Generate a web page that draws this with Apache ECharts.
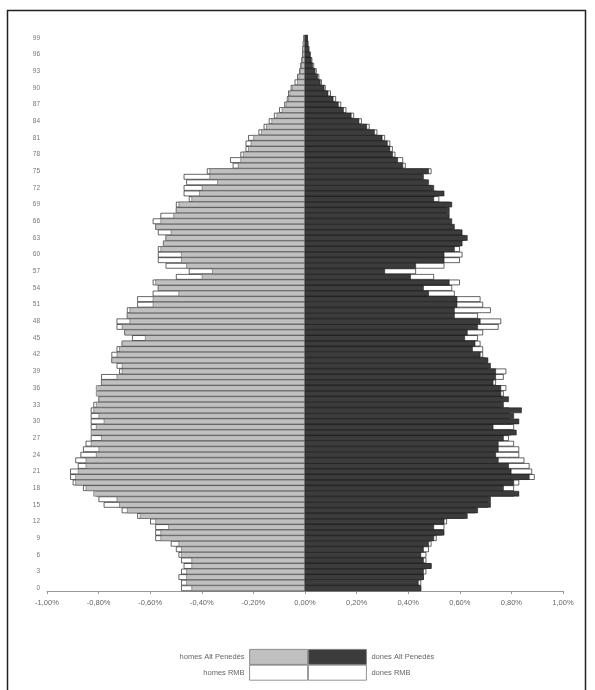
<!DOCTYPE html>
<html>
<head>
<meta charset="utf-8">
<script src="https://cdn.jsdelivr.net/npm/echarts@6/dist/echarts.min.js"></script>
<style>html,body{margin:0;padding:0;background:#fff;}#c{width:595px;height:690px;}</style>
</head>
<body>
<div id="c"></div>
<script>
// Ages 0..99
const ages = Array.from({length: 100}, (_, i) => String(i));
// Percent of total population (positive values), index = age
const homesAltPenedes = [0.44,0.46,0.46,0.46,0.44,0.44,0.48,0.48,0.49,0.56,
  0.56,0.53,0.58,0.64,0.69,0.72,0.73,0.82,0.85,0.89,
  0.89,0.88,0.85,0.85,0.81,0.80,0.83,0.79,0.83,0.81,
  0.78,0.80,0.82,0.81,0.80,0.81,0.81,0.79,0.73,0.71,
  0.71,0.75,0.73,0.72,0.71,0.62,0.70,0.71,0.68,0.69,
  0.68,0.59,0.59,0.49,0.57,0.58,0.40,0.36,0.46,0.48,
  0.48,0.56,0.55,0.54,0.52,0.58,0.56,0.51,0.50,0.49,
  0.44,0.41,0.40,0.34,0.37,0.37,0.26,0.25,0.24,0.22,
  0.21,0.20,0.17,0.15,0.13,0.11,0.09,0.075,0.065,0.06,
  0.05,0.03,0.025,0.02,0.015,0.012,0.01,0.01,0.008,0.005];
const homesRMB = [0.48,0.48,0.49,0.48,0.47,0.48,0.49,0.50,0.52,0.58,
  0.58,0.58,0.60,0.65,0.71,0.78,0.80,0.81,0.86,0.90,
  0.91,0.91,0.88,0.89,0.87,0.86,0.85,0.83,0.82,0.83,
  0.83,0.83,0.83,0.82,0.80,0.80,0.80,0.79,0.79,0.72,
  0.73,0.75,0.75,0.73,0.71,0.67,0.70,0.73,0.73,0.69,
  0.69,0.65,0.65,0.59,0.57,0.59,0.50,0.45,0.54,0.57,
  0.57,0.57,0.55,0.54,0.57,0.58,0.59,0.56,0.50,0.50,
  0.45,0.47,0.47,0.46,0.47,0.38,0.28,0.29,0.25,0.23,
  0.23,0.22,0.18,0.16,0.14,0.12,0.10,0.08,0.07,0.065,
  0.055,0.04,0.03,0.022,0.018,0.014,0.011,0.01,0.008,0.006];
const donesAltPenedes = [0.45,0.44,0.46,0.46,0.49,0.46,0.45,0.46,0.48,0.50,
  0.54,0.50,0.54,0.63,0.67,0.72,0.72,0.83,0.77,0.81,
  0.87,0.80,0.79,0.75,0.74,0.75,0.75,0.77,0.82,0.73,
  0.83,0.81,0.84,0.77,0.79,0.76,0.76,0.73,0.74,0.74,
  0.72,0.71,0.68,0.65,0.66,0.62,0.63,0.67,0.68,0.58,
  0.58,0.59,0.59,0.48,0.46,0.56,0.41,0.31,0.43,0.54,
  0.54,0.58,0.61,0.63,0.61,0.58,0.57,0.56,0.56,0.57,
  0.50,0.54,0.50,0.48,0.46,0.48,0.38,0.36,0.34,0.33,
  0.32,0.30,0.27,0.24,0.21,0.18,0.15,0.13,0.11,0.09,
  0.075,0.06,0.05,0.04,0.03,0.025,0.02,0.015,0.012,0.01];
const donesRMB = [0.45,0.45,0.46,0.47,0.49,0.47,0.47,0.48,0.49,0.51,
  0.53,0.54,0.55,0.62,0.66,0.71,0.71,0.81,0.81,0.83,
  0.89,0.88,0.87,0.85,0.83,0.83,0.81,0.79,0.80,0.81,
  0.80,0.79,0.79,0.76,0.77,0.77,0.78,0.74,0.77,0.78,
  0.71,0.70,0.69,0.69,0.68,0.67,0.69,0.75,0.76,0.67,
  0.72,0.69,0.68,0.58,0.57,0.60,0.50,0.43,0.54,0.60,
  0.61,0.60,0.60,0.62,0.60,0.57,0.56,0.55,0.55,0.56,
  0.52,0.51,0.49,0.47,0.45,0.49,0.39,0.38,0.35,0.34,
  0.33,0.31,0.28,0.25,0.22,0.19,0.16,0.14,0.12,0.10,
  0.08,0.065,0.055,0.045,0.035,0.028,0.022,0.017,0.013,0.011];
const seriesNames = ['homes Alt Penedès', 'dones Alt Penedès', 'homes RMB', 'dones RMB'];

const chart = echarts.init(document.getElementById('c'), null, {renderer: 'canvas'});
const font = 'Liberation Sans, Arial, sans-serif';
const fmt = v => (Math.round(v * 100) / 100).toFixed(2).replace('.', ',') + '%';

const rmbStyle = {color: '#ffffff', borderColor: '#000000', borderWidth: 0.6};
const legendCommon = {
  orient: 'vertical', top: 649, itemWidth: 58, itemHeight: 15, itemGap: 0, padding: 0,
  icon: 'rect', selectedMode: false,
  itemStyle: {borderWidth: 0.8, borderColor: '#777'},
  textStyle: {fontFamily: font, fontSize: 7.5, color: '#666'}
};
const option = {
  animation: false,
  backgroundColor: '#ffffff',
  grid: {left: 47, right: 32, top: 35, bottom: 99, containLabel: false},
  xAxis: {
    type: 'value', min: -1, max: 1, interval: 0.2,
    axisLine: {show: true, lineStyle: {color: '#999', width: 1}},
    axisTick: {show: true, length: 3, lineStyle: {color: '#999'}},
    splitLine: {show: false},
    axisLabel: {formatter: v => fmt(v), fontFamily: font, fontSize: 7.5, color: '#666', margin: 8}
  },
  yAxis: {
    type: 'category', data: ages, position: 'left',
    axisLine: {show: false}, axisTick: {show: false},
    axisLabel: {interval: 2, fontFamily: font, fontSize: 6.5, color: '#777', margin: 7}
  },
  legend: [
    Object.assign({data: [seriesNames[0], seriesNames[2]], align: 'right', right: 287}, legendCommon),
    Object.assign({data: [seriesNames[1], seriesNames[3]], align: 'left', left: 308}, legendCommon)
  ],
  series: [
    {name: seriesNames[2], type: 'bar', barGap: '-100%', barCategoryGap: 0,
     data: homesRMB.map(v => -v), itemStyle: rmbStyle, z: 1},
    {name: seriesNames[3], type: 'bar', barGap: '-100%', barCategoryGap: 0,
     data: donesRMB, itemStyle: rmbStyle, z: 1},
    {name: seriesNames[0], type: 'bar', barGap: '-100%', barCategoryGap: 0,
     data: homesAltPenedes.map(v => -v),
     itemStyle: {color: '#c0c0c0', borderColor: '#5a5a5a', borderWidth: 0.55}, z: 2},
    {name: seriesNames[1], type: 'bar', barGap: '-100%', barCategoryGap: 0,
     data: donesAltPenedes,
     itemStyle: {color: '#3c3c3c', borderColor: '#111', borderWidth: 0.5}, z: 2}
  ],
  graphic: [
    {type: 'rect', silent: true, z: 100,
     shape: {x: 7.5, y: 10.5, width: 578, height: 700},
     style: {fill: 'none', stroke: '#222', lineWidth: 1.5}}
  ]
};
chart.setOption(option);
</script>
</body>
</html>
